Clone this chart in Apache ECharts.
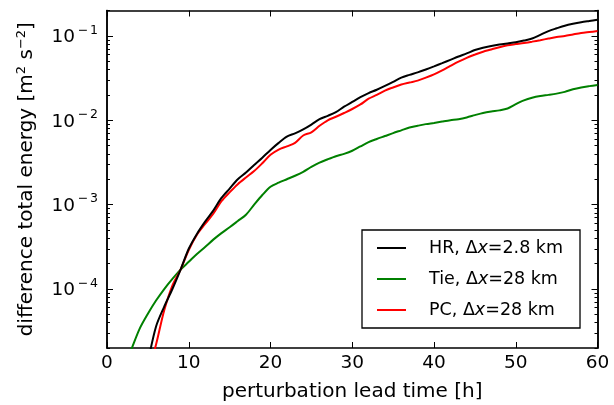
<!DOCTYPE html>
<html>
<head>
<meta charset="utf-8">
<script src="https://cdn.jsdelivr.net/npm/echarts@6/dist/echarts.min.js"></script>
<style>
html,body{margin:0;padding:0;background:#fff;}
#c{width:614px;height:405px;}
</style>
</head>
<body>
<div id="c"></div>
<script>
const hours = [0,1,2,3,4,5,6,7,8,9,10,11,12,13,14,15,16,17,18,19,20,21,22,23,24,25,26,27,28,29,30,31,32,33,34,35,36,37,38,39,40,41,42,43,44,45,46,47,48,49,50,51,52,53,54,55,56,57,58,59,60];
const hrValues = [null,null,null,null,null,1.35e-5,3.6e-5,6.2e-5,1.0e-4,1.7e-4,3.0e-4,4.5e-4,6.3e-4,8.5e-4,1.2e-3,1.55e-3,2.0e-3,2.4e-3,2.95e-3,3.6e-3,4.45e-3,5.4e-3,6.4e-3,7.0e-3,7.8e-3,8.9e-3,1.03e-2,1.13e-2,1.25e-2,1.45e-2,1.65e-2,1.88e-2,2.1e-2,2.3e-2,2.55e-2,2.85e-2,3.2e-2,3.45e-2,3.7e-2,4.0e-2,4.35e-2,4.75e-2,5.2e-2,5.7e-2,6.2e-2,6.8e-2,7.25e-2,7.6e-2,7.9e-2,8.15e-2,8.4e-2,8.8e-2,9.3e-2,0.103,0.114,0.123,0.132,0.139,0.145,0.150,0.155];
const tieValues = [null,null,1.1e-5,1.95e-5,3.4e-5,5.1e-5,7.3e-5,1.0e-4,1.32e-4,1.7e-4,2.1e-4,2.6e-4,3.15e-4,3.85e-4,4.6e-4,5.4e-4,6.4e-4,7.6e-4,1.0e-3,1.3e-3,1.63e-3,1.82e-3,2.0e-3,2.2e-3,2.45e-3,2.8e-3,3.15e-3,3.45e-3,3.75e-3,4.0e-3,4.35e-3,4.9e-3,5.5e-3,6.0e-3,6.5e-3,7.05e-3,7.6e-3,8.2e-3,8.6e-3,9.0e-3,9.3e-3,9.65e-3,1.0e-2,1.03e-2,1.08e-2,1.15e-2,1.22e-2,1.27e-2,1.31e-2,1.38e-2,1.55e-2,1.72e-2,1.85e-2,1.94e-2,2.0e-2,2.07e-2,2.17e-2,2.33e-2,2.45e-2,2.54e-2,2.62e-2];
const pcValues = [null,null,null,null,null,1.0e-5,2.2e-5,5.6e-5,1.1e-4,1.7e-4,2.9e-4,4.4e-4,5.9e-4,7.8e-4,1.1e-3,1.4e-3,1.75e-3,2.1e-3,2.5e-3,3.1e-3,3.9e-3,4.5e-3,4.9e-3,5.4e-3,6.6e-3,7.2e-3,8.6e-3,1.0e-2,1.1e-2,1.22e-2,1.36e-2,1.54e-2,1.8e-2,2.0e-2,2.25e-2,2.45e-2,2.65e-2,2.8e-2,2.95e-2,3.2e-2,3.5e-2,3.9e-2,4.4e-2,4.95e-2,5.5e-2,6.0e-2,6.5e-2,6.9e-2,7.35e-2,7.75e-2,8.0e-2,8.25e-2,8.55e-2,8.9e-2,9.3e-2,9.7e-2,0.100,0.104,0.108,0.111,0.114];

const seriesNames = ['HR', 'Tie', 'PC'];
const legendLabels = ['HR, \u0394{i|x}=2.8 km', 'Tie, \u0394{i|x}=28 km', 'PC, \u0394{i|x}=28 km'];
const seriesColors = ['#000000', '#008000', '#ff0000'];

const xTicks = [0, 10, 20, 30, 40, 50, 60];
const yExponents = [-4, -3, -2, -1];
const yMin = 2e-5, yMax = 0.2;
const xTitle = 'perturbation lead time [h]';
const yTitle = 'difference total energy [m{s|2} s{s|\u22122}]';

const FONT = 'DejaVu Sans';
const majorY = yExponents.map(e => Math.pow(10, e));
const minorY = [];
for (let e = -5; e <= -1; e++) {
  for (let m = 2; m <= 9; m++) {
    const v = m * Math.pow(10, e);
    if (v >= yMin * 0.999 && v <= yMax * 1.001) minorY.push(v);
  }
}

function pairs(vals) {
  const out = [];
  hours.forEach((h, i) => { if (vals[i] != null) out.push([h, vals[i]]); });
  return out;
}
const allValues = [hrValues, tieValues, pcValues];

const axisLineStyle = { color: '#000', width: 1.5 };

function yAxisDef(pos, ticks, len, labels) {
  return {
    type: 'log', logBase: 10, min: yMin, max: yMax, position: pos,
    axisLine: { show: true, onZero: false, lineStyle: axisLineStyle },
    axisTick: { show: true, inside: true, length: len, customValues: ticks, lineStyle: { color: '#000', width: 1 } },
    axisLabel: labels ? {
      show: true, margin: 9, customValues: majorY,
      formatter: function (v) {
        const e = Math.round(Math.log10(v));
        return '{b|10}{m|\u2212}{s|' + (-e) + '}';
      },
      rich: {
        b: { fontSize: 18.5, fontFamily: FONT, color: '#000', lineHeight: 24, verticalAlign: 'bottom', padding: [0, 0, 1, 0] },
        m: { fontSize: 12.5, fontFamily: FONT, color: '#000', lineHeight: 24, verticalAlign: 'top', width: 14, align: 'center', padding: [0, 0, 8, 1] },
        s: { fontSize: 12.5, fontFamily: FONT, color: '#000', lineHeight: 24, verticalAlign: 'top', padding: [0, 0, 8, 0] }
      }
    } : { show: false },
    splitLine: { show: false },
    minorTick: { show: false },
    minorSplitLine: { show: false }
  };
}

const option = {
  animation: false,
  backgroundColor: '#fff',
  grid: { left: 107, right: 16.5, top: 10.5, bottom: 57, outerBoundsMode: 'none', containLabel: false },
  xAxis: [
    {
      type: 'value', min: 0, max: 60, interval: 10, position: 'bottom',
      name: xTitle, nameLocation: 'middle', nameGap: 34,
      nameTextStyle: { fontSize: 20, fontFamily: FONT, color: '#000' },
      axisLine: { show: true, onZero: false, lineStyle: axisLineStyle },
      axisTick: { show: true, inside: true, length: 6, lineStyle: { color: '#000', width: 1 } },
      axisLabel: { show: true, margin: 6, fontSize: 18.5, fontFamily: FONT, color: '#000',
        customValues: xTicks },
      splitLine: { show: false }
    },
    {
      type: 'value', min: 0, max: 60, interval: 10, position: 'top',
      axisLine: { show: true, onZero: false, lineStyle: axisLineStyle },
      axisTick: { show: true, inside: true, length: 6, lineStyle: { color: '#000', width: 1 } },
      axisLabel: { show: false },
      splitLine: { show: false }
    }
  ],
  yAxis: [
    Object.assign(yAxisDef('left', majorY, 6, true), {
      name: yTitle, nameLocation: 'middle', nameGap: 68,
      nameTextStyle: {
        fontSize: 20, fontFamily: FONT, color: '#000',
        rich: {
          s: { fontSize: 13, fontFamily: FONT, color: '#000', verticalAlign: 'top', lineHeight: 24, padding: [0, 0, 6, 0] }
        }
      }
    }),
    yAxisDef('left', minorY, 3, false),
    yAxisDef('right', majorY, 6, false),
    yAxisDef('right', minorY, 3, false)
  ],
  legend: {
    show: true, orient: 'vertical', left: 362, top: 230,
    padding: [9, 17, 9, 14], itemGap: 13, itemWidth: 29, itemHeight: 14,
    borderColor: '#000', borderWidth: 1.3, borderRadius: 0,
    backgroundColor: '#fff',
    itemStyle: { opacity: 0 },
    data: seriesNames,
    formatter: function (name) { return legendLabels[seriesNames.indexOf(name)]; },
    textStyle: {
      fontSize: 17.5, fontFamily: FONT, color: '#000', padding: [0, 0, 0, 18],
      rich: { i: { fontSize: 17.5, fontFamily: FONT, color: '#000', fontStyle: 'italic' } }
    }
  },
  series: seriesNames.map((n, k) => ({
    name: n, type: 'line', xAxisIndex: 0, yAxisIndex: 0,
    data: pairs(allValues[k]),
    symbol: 'none', showSymbol: false, smooth: 0.3, clip: true,
    lineStyle: { color: seriesColors[k], width: 2 },
    itemStyle: { color: seriesColors[k] },
    z: 3 + (k === 1 ? 0 : k === 2 ? 1 : 2)
  }))
};

const chart = echarts.init(document.getElementById('c'), null, { renderer: 'canvas' });
chart.setOption(option);
</script>
</body>
</html>
